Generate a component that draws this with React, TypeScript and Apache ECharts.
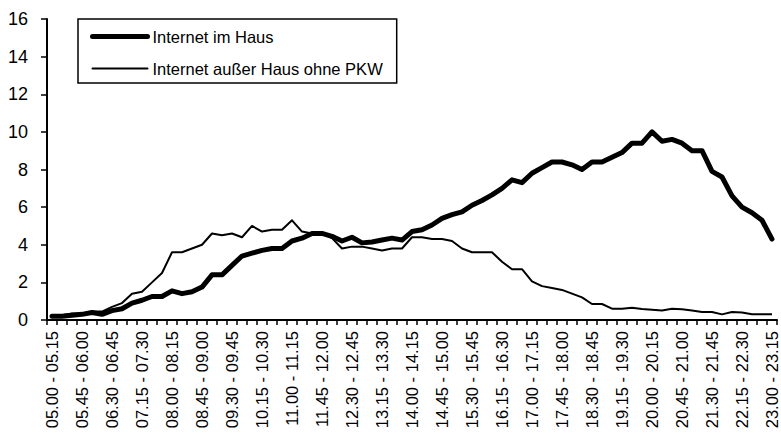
import React, { useEffect, useRef } from "react";
import * as echarts from "echarts";

const categories: string[] = [
  "05.00 - 05.15", "05.15 - 05.30", "05.30 - 05.45", "05.45 - 06.00",
  "06.00 - 06.15", "06.15 - 06.30", "06.30 - 06.45", "06.45 - 07.00",
  "07.00 - 07.15", "07.15 - 07.30", "07.30 - 07.45", "07.45 - 08.00",
  "08.00 - 08.15", "08.15 - 08.30", "08.30 - 08.45", "08.45 - 09.00",
  "09.00 - 09.15", "09.15 - 09.30", "09.30 - 09.45", "09.45 - 10.00",
  "10.00 - 10.15", "10.15 - 10.30", "10.30 - 10.45", "10.45 - 11.00",
  "11.00 - 11.15", "11.15 - 11.30", "11.30 - 11.45", "11.45 - 12.00",
  "12.00 - 12.15", "12.15 - 12.30", "12.30 - 12.45", "12.45 - 13.00",
  "13.00 - 13.15", "13.15 - 13.30", "13.30 - 13.45", "13.45 - 14.00",
  "14.00 - 14.15", "14.15 - 14.30", "14.30 - 14.45", "14.45 - 15.00",
  "15.00 - 15.15", "15.15 - 15.30", "15.30 - 15.45", "15.45 - 16.00",
  "16.00 - 16.15", "16.15 - 16.30", "16.30 - 16.45", "16.45 - 17.00",
  "17.00 - 17.15", "17.15 - 17.30", "17.30 - 17.45", "17.45 - 18.00",
  "18.00 - 18.15", "18.15 - 18.30", "18.30 - 18.45", "18.45 - 19.00",
  "19.00 - 19.15", "19.15 - 19.30", "19.30 - 19.45", "19.45 - 20.00",
  "20.00 - 20.15", "20.15 - 20.30", "20.30 - 20.45", "20.45 - 21.00",
  "21.00 - 21.15", "21.15 - 21.30", "21.30 - 21.45", "21.45 - 22.00",
  "22.00 - 22.15", "22.15 - 22.30", "22.30 - 22.45", "22.45 - 23.00",
  "23.00 - 23.15",
];

const seriesNames: string[] = ["Internet im Haus", "Internet außer Haus ohne PKW"];

const imHaus: number[] = [
  0.2, 0.2, 0.25, 0.3, 0.4, 0.3, 0.5, 0.6, 0.9, 1.05,
  1.25, 1.25, 1.55, 1.4, 1.5, 1.75, 2.4, 2.4, 2.9, 3.4,
  3.55, 3.7, 3.8, 3.8, 4.2, 4.35, 4.6, 4.6, 4.45, 4.2,
  4.4, 4.1, 4.15, 4.25, 4.35, 4.25, 4.7, 4.8, 5.05, 5.4,
  5.6, 5.75, 6.1, 6.35, 6.65, 7.0, 7.45, 7.3, 7.8, 8.1,
  8.4, 8.4, 8.25, 8.0, 8.4, 8.4, 8.65, 8.9, 9.4, 9.4,
  10.0, 9.5, 9.6, 9.4, 9.0, 9.0, 7.9, 7.6, 6.6, 6.0,
  5.7, 5.3, 4.3,
];

const ausserHaus: number[] = [
  0.25, 0.25, 0.35, 0.35, 0.45, 0.45, 0.7, 0.9, 1.4, 1.5,
  2.0, 2.5, 3.6, 3.6, 3.8, 4.0, 4.6, 4.5, 4.6, 4.4,
  5.0, 4.7, 4.8, 4.8, 5.3, 4.7, 4.6, 4.6, 4.35, 3.8,
  3.9, 3.9, 3.8, 3.7, 3.8, 3.8, 4.4, 4.4, 4.3, 4.3,
  4.2, 3.8, 3.6, 3.6, 3.6, 3.1, 2.7, 2.7, 2.05, 1.8,
  1.7, 1.6, 1.4, 1.2, 0.85, 0.85, 0.6, 0.6, 0.65, 0.58,
  0.55, 0.5, 0.6, 0.57, 0.5, 0.42, 0.42, 0.3, 0.43, 0.4,
  0.3, 0.3, 0.3,
];

const lineWidths: number[] = [5, 2];

const FONT = "'Liberation Sans', Arial, sans-serif";

export default function App() {
  const ref = useRef<HTMLDivElement>(null);
  useEffect(() => {
    document.body.style.margin = "0";
    if (!ref.current) return;
    const chart = echarts.init(ref.current, null, { renderer: "svg" });
    chart.setOption({
      animation: false,
      backgroundColor: "#ffffff",
      grid: { left: 47, right: 4, top: 19, bottom: 119, containLabel: false },
      legend: {
        orient: "vertical",
        left: 78,
        top: 19,
        data: seriesNames.map((n, i) => ({
          name: n,
          lineStyle: { width: lineWidths[i], color: "#000", cap: "round" },
          itemStyle: { opacity: 0, color: "transparent", borderWidth: 0 },
        })),
        borderColor: "#000",
        borderWidth: 1.5,
        padding: [9, 14, 6, 12],
        itemWidth: 55,
        itemHeight: 18,
        itemGap: 15,
        textStyle: { fontFamily: FONT, fontSize: 16.5, color: "#000" },
      },
      xAxis: {
        type: "category",
        data: categories,
        boundaryGap: true,
        axisLine: { lineStyle: { color: "#000", width: 2 } },
        axisTick: { show: true, interval: 0, length: 5, lineStyle: { color: "#000", width: 1.5 } },
        axisLabel: {
          interval: 2,
          rotate: 90,
          margin: 11,
          fontFamily: FONT,
          fontSize: 16.5,
          color: "#000",
        },
        splitLine: { show: false },
      },
      yAxis: {
        type: "value",
        min: 0,
        max: 16,
        interval: 2,
        axisLine: { show: true, lineStyle: { color: "#000", width: 2 } },
        axisTick: { show: true, length: 6, lineStyle: { color: "#000", width: 1.5 } },
        axisLabel: { margin: 19, fontFamily: FONT, fontSize: 18, color: "#000" },
        splitLine: { show: false },
      },
      series: [
        {
          name: seriesNames[0],
          type: "line",
          data: imHaus,
          symbol: "none",
          lineStyle: { color: "#000", width: lineWidths[0], cap: "round", join: "round" },
          itemStyle: { color: "#000" },
        },
        {
          name: seriesNames[1],
          type: "line",
          data: ausserHaus,
          symbol: "none",
          lineStyle: { color: "#000", width: lineWidths[1], join: "round" },
          itemStyle: { color: "#000" },
        },
      ],
    });
    return () => chart.dispose();
  }, []);
  return <div ref={ref} style={{ width: 781, height: 439 }} />;
}
